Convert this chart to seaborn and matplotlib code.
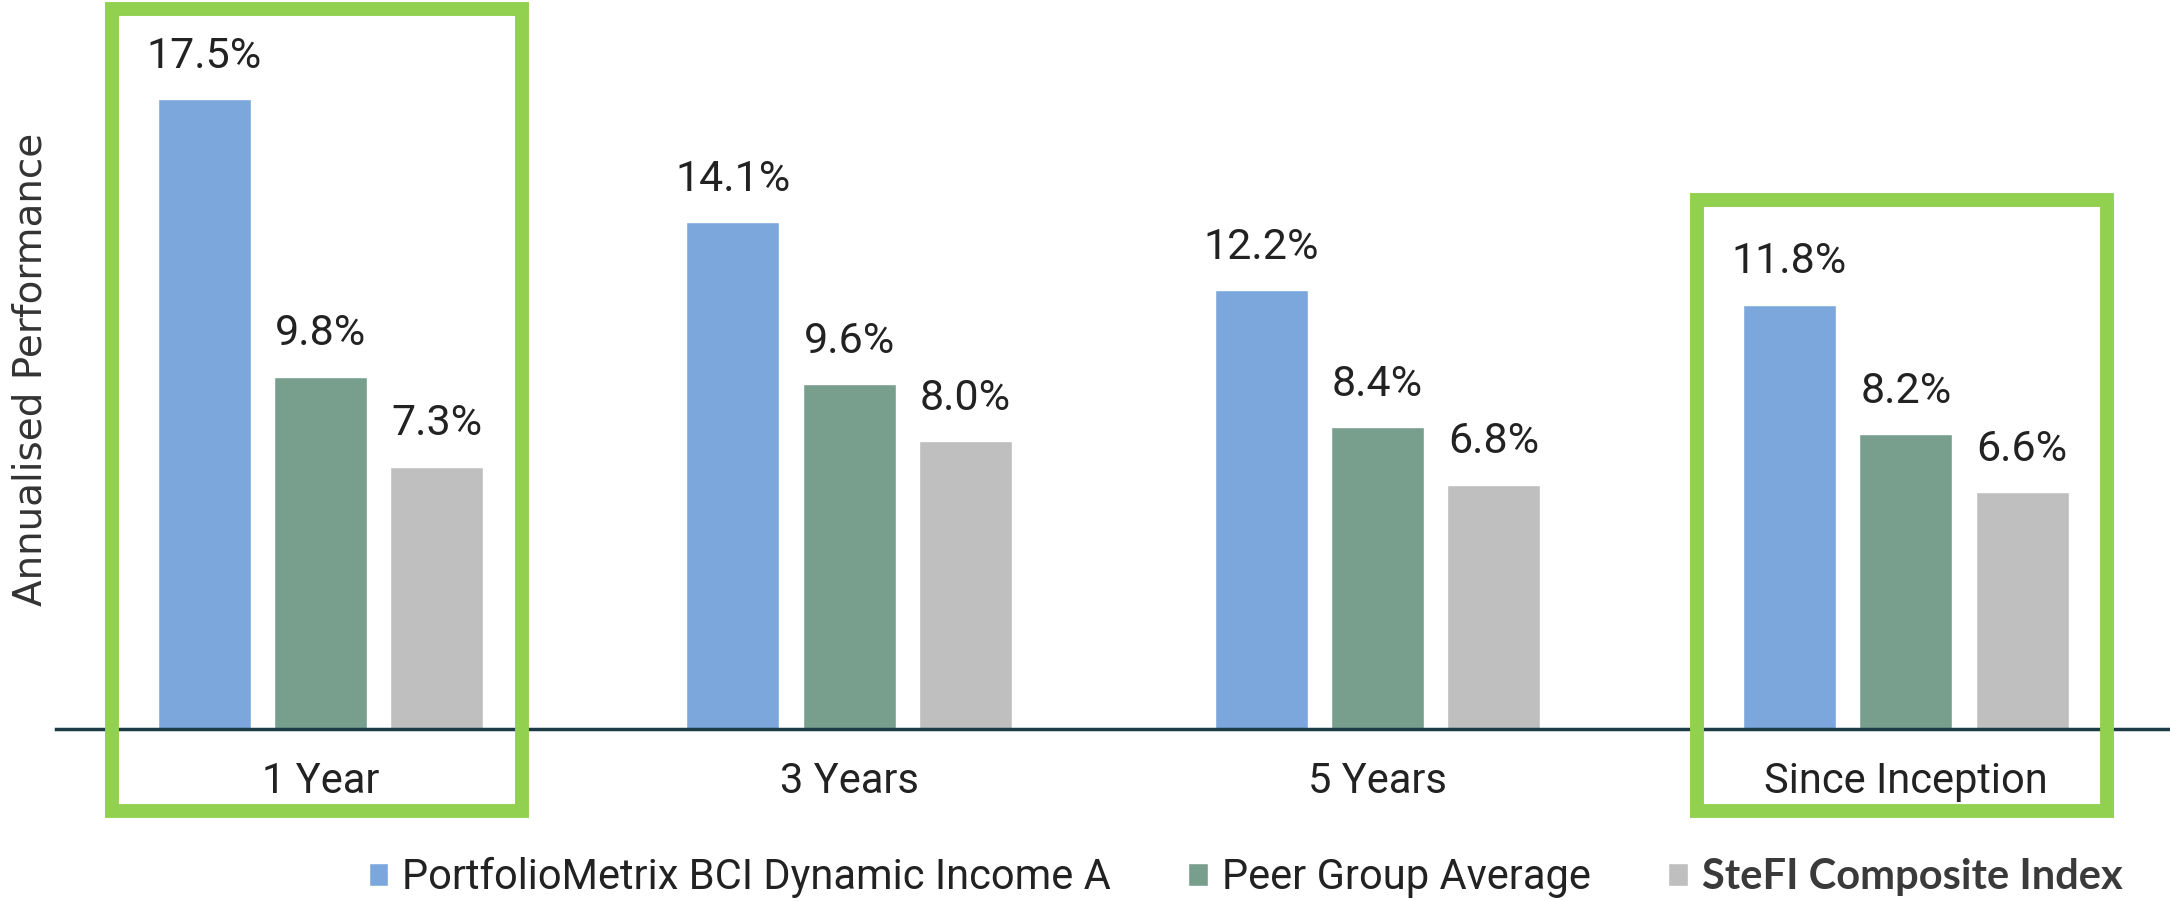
import pandas as pd
import matplotlib
matplotlib.use('Agg')
import matplotlib.pyplot as plt
import seaborn as sns
from matplotlib.patches import Rectangle

# Data
periods = ['1 Year', '3 Years', '5 Years', 'Since Inception']
series = ['PortfolioMetrix BCI Dynamic Income A', 'Peer Group Average', 'SteFI Composite Index']
fund = [17.5, 14.1, 12.2, 11.8]
peer = [9.8, 9.6, 8.4, 8.2]
stefi = [7.3, 8.0, 6.8, 6.6]
highlighted = ['1 Year', 'Since Inception']

colors = ['#7ba7dc', '#789f8e', '#bfbfbf']

df = pd.DataFrame({
    'period': periods * 3,
    'series': [series[0]] * 4 + [series[1]] * 4 + [series[2]] * 4,
    'value': fund + peer + stefi,
})

sns.set_theme(style='white')
plt.rcParams['font.family'] = ['Roboto', 'DejaVu Sans']

fig = plt.figure(figsize=(21.7, 9.01), dpi=100)
ax = fig.add_axes([0.026, 0.1905, 0.974, 0.799])

sns.barplot(data=df, x='period', y='value', hue='series', palette=colors,
            width=0.66, gap=0.2, saturation=1, ax=ax)

ax.set_xlim(-0.5, 3.5)
ax.set_ylim(0, 20)

# value labels
for cont in ax.containers:
    ax.bar_label(cont, labels=[f'{b.get_height():.1f}%' for b in cont],
                 padding=16, fontsize=31, color='#222222')

# axes styling
for s in ['top', 'right', 'left']:
    ax.spines[s].set_visible(False)
ax.spines['bottom'].set_color('#1c3b47')
ax.spines['bottom'].set_linewidth(2.5)
ax.set_yticks([])
ax.set_xlabel('')
ax.set_ylabel('')
ax.tick_params(axis='x', length=0, pad=23, labelsize=30, labelcolor='#222222')

fig.text(0.014, 0.59, 'Annualised Performance', rotation=90, ha='center', va='center',
         fontsize=28, color='#333333', family=['Liberation Sans Narrow', 'DejaVu Sans'])

# green highlight boxes
box_tops = {'1 Year': 20.0, 'Since Inception': 14.7}
for p in highlighted:
    i = periods.index(p)
    ax.add_patch(Rectangle((i - 0.395, -2.27), 0.776, box_tops[p] + 2.27,
                           fill=False, ec='#92d050', lw=10, clip_on=False, zorder=5))

# legend
handles, labels = ax.get_legend_handles_labels()
if ax.get_legend() is not None:
    ax.get_legend().remove()
leg = fig.legend(handles, labels, loc='center', bbox_to_anchor=(0.574, 0.026), ncol=3,
                 frameon=False, fontsize=30, handlelength=0.47, handleheight=0.47,
                 handletextpad=0.34, columnspacing=1.85)
for t in leg.get_texts():
    t.set_color('#222222')
bold = leg.get_texts()[2]
bold.set_fontweight('bold')
bold.set_family(['Lato', 'DejaVu Sans'])
bold.set_color('#3a3a3a')

fig.savefig('out.png', dpi=100)
